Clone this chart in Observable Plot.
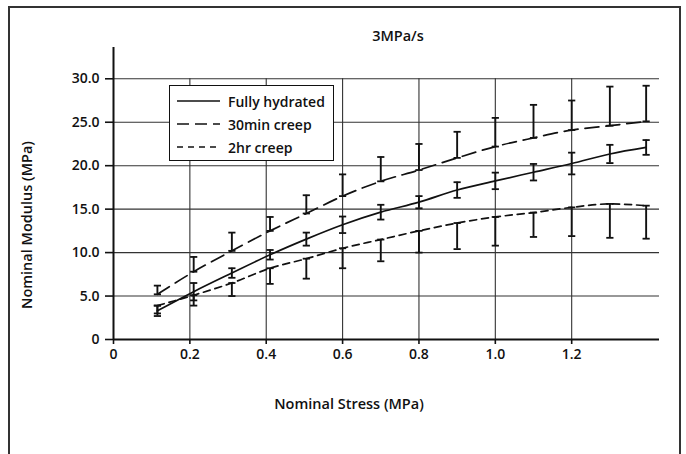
<!DOCTYPE html>
<html>
<head>
<meta charset="utf-8">
<script src="https://cdn.jsdelivr.net/npm/d3@7"></script>
<script src="https://cdn.jsdelivr.net/npm/@observablehq/plot@0.6"></script>
<style>
  html, body { margin: 0; padding: 0; background: #fff; }
  #wrap { position: relative; width: 686px; height: 454px; overflow: hidden; font-family: "Open Sans", sans-serif; font-weight: 600; color: #111; }
  #frame { position: absolute; left: 8px; top: 6px; width: 673px; height: 470px; border: 2px solid #333; box-sizing: border-box; }
  .lbl { position: absolute; font-size: 14.5px; white-space: nowrap; line-height: 1; }
  #legend { position: absolute; left: 169px; top: 85px; width: 165px; height: 76px; border: 1.5px solid #111; background: #fff; box-sizing: border-box; }
  .row { position: absolute; left: 0; height: 20px; display: flex; align-items: center; font-size: 14px; }
  .row svg { margin-left: 7px; margin-right: 8px; }
</style>
</head>
<body>
<div id="wrap">
  <div id="frame"></div>
  <div id="chart"></div>
  <div class="lbl" id="title" style="left:398px; top:36px; transform: translate(-50%,-50%);">3MPa/s</div>
  <div class="lbl" id="xlabel" style="left:349px; top:404px; transform: translate(-50%,-50%);">Nominal Stress (MPa)</div>
  <div class="lbl" id="ylabel" style="left:27px; top:225px; transform: translate(-50%,-50%) rotate(-90deg);">Nominal Modulus (MPa)</div>
  <div id="legend"></div>
</div>
<script>
// ---- data ----
const stress = [0.115, 0.21, 0.31, 0.41, 0.505, 0.6, 0.7, 0.8, 0.9, 1.0, 1.1, 1.2, 1.3, 1.395];
const hydratedMean = [3.3, 5.5, 7.65, 9.75, 11.55, 13.2, 14.65, 15.8, 17.2, 18.25, 19.25, 20.25, 21.35, 22.1];
const hydratedErr  = [0.6, 1.0, 0.55, 0.55, 0.75, 0.95, 0.85, 0.7, 0.9, 0.95, 0.95, 1.25, 1.05, 0.85];
const creep30Mean  = [5.2, 7.8, 10.2, 12.5, 14.5, 16.5, 18.2, 19.5, 20.9, 22.2, 23.2, 24.1, 24.6, 25.1];
const creep30Upper = [6.2, 9.5, 12.3, 14.1, 16.6, 19.0, 21.0, 22.5, 23.9, 25.5, 27.0, 27.5, 29.1, 29.2];
const creep2Mean   = [3.9, 5.1, 6.5, 8.2, 9.3, 10.5, 11.5, 12.5, 13.4, 14.1, 14.6, 15.2, 15.6, 15.4];
const creep2Lower  = [3.0, 3.9, 5.0, 6.4, 7.0, 8.2, 9.0, 10.0, 10.4, 10.8, 11.8, 11.9, 11.7, 11.6];
const xTicks = [0, 0.2, 0.4, 0.6, 0.8, 1.0, 1.2];
const yTicks = [0, 5, 10, 15, 20, 25, 30];
const seriesNames = ["Fully hydrated", "30min creep", "2hr creep"];

// ---- tables built from the arrays ----
const hydrated = stress.map((x, i) => ({x, y: hydratedMean[i], lo: hydratedMean[i] - hydratedErr[i], hi: hydratedMean[i] + hydratedErr[i]}));
const creep30 = stress.map((x, i) => ({x, y: creep30Mean[i], lo: creep30Mean[i], hi: creep30Upper[i]}));
const creep2 = stress.map((x, i) => ({x, y: creep2Mean[i], lo: creep2Lower[i], hi: creep2Mean[i]}));

const dashes = ["none", "14,7", "7,5"];
const legendDashes = ["none", "12,6", "6,5"];

const capSymbol = {
  draw(context, size) {
    const w = Math.sqrt(size / Math.PI);
    context.moveTo(-w, 0);
    context.lineTo(w, 0);
  }
};

function errorMarks(data) {
  return [
    Plot.ruleX(data, {x: "x", y1: "lo", y2: "hi", stroke: "#111", strokeWidth: 1.9}),
    Plot.dot(data, {x: "x", y: "lo", symbol: capSymbol, r: 3.6, stroke: "#111", strokeWidth: 1.8, fill: "none"}),
    Plot.dot(data, {x: "x", y: "hi", symbol: capSymbol, r: 3.6, stroke: "#111", strokeWidth: 1.8, fill: "none"})
  ];
}

const fmt = d => d === 0 ? "0" : d.toFixed(1);
const yTop = d3.max(yTicks);

const chart = Plot.plot({
  width: 686,
  height: 454,
  marginLeft: 113,
  marginRight: 27,
  marginTop: 47,
  marginBottom: 115,
  style: {fontFamily: "'Open Sans', sans-serif", fontSize: "14px", fontWeight: 600, color: "#111", background: "transparent"},
  x: {domain: [0, 1.43]},
  y: {domain: [0, 33.6]},
  marks: [
    Plot.ruleY(yTicks.filter(d => d > 0), {stroke: "#333", strokeWidth: 1.1}),
    Plot.ruleX(xTicks.filter(d => d > 0), {y1: 0, y2: yTop, stroke: "#333", strokeWidth: 1.1}),
    Plot.axisY({ticks: yTicks, tickFormat: fmt, tickSize: 8, tickPadding: 6, label: null, strokeWidth: 1.6}),
    Plot.axisX({ticks: xTicks, tickFormat: fmt, tickSize: 5, tickPadding: 5, label: null, strokeWidth: 1.6}),
    Plot.ruleY([0], {stroke: "#111", strokeWidth: 2}),
    Plot.ruleX([0], {stroke: "#111", strokeWidth: 2}),
    Plot.line(hydrated, {x: "x", y: "y", curve: "monotone-x", stroke: "#111", strokeWidth: 1.7}),
    Plot.line(creep30, {x: "x", y: "y", curve: "monotone-x", stroke: "#111", strokeWidth: 1.7, strokeDasharray: dashes[1]}),
    Plot.line(creep2, {x: "x", y: "y", curve: "monotone-x", stroke: "#111", strokeWidth: 1.7, strokeDasharray: dashes[2]}),
    ...errorMarks(hydrated),
    ...errorMarks(creep30),
    ...errorMarks(creep2)
  ]
});
document.getElementById("chart").appendChild(chart);

// legend
const legend = document.getElementById("legend");
seriesNames.forEach((name, i) => {
  const row = document.createElement("div");
  row.className = "row";
  row.style.top = (5 + i * 23) + "px";
  row.innerHTML = `<svg width="43" height="4"><line x1="0" x2="43" y1="2" y2="2" stroke="#111" stroke-width="1.7" ${legendDashes[i] !== "none" ? `stroke-dasharray="${legendDashes[i]}"` : ""}/></svg><span>${name}</span>`;
  legend.appendChild(row);
});
</script>
</body>
</html>
